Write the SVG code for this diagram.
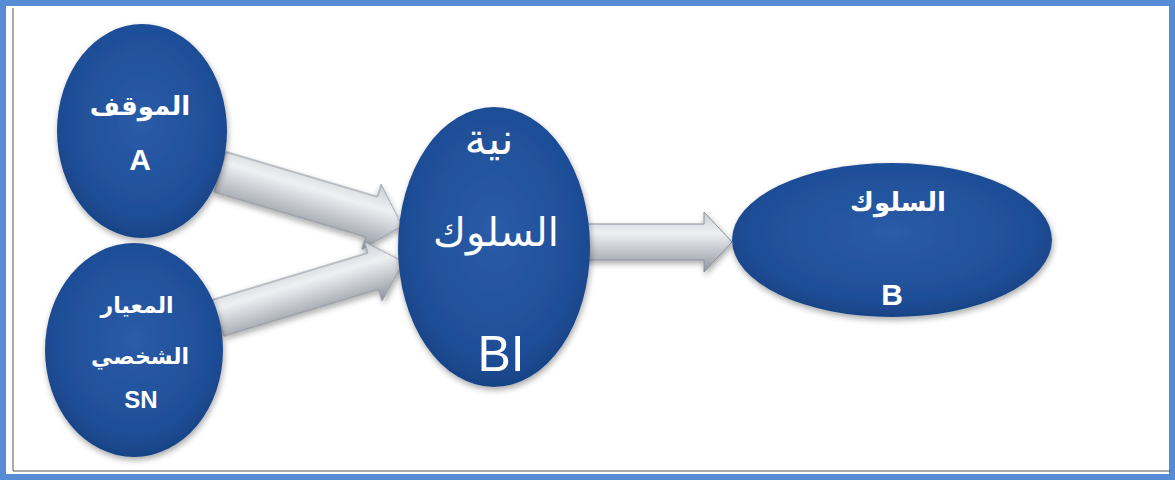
<svg xmlns="http://www.w3.org/2000/svg" width="1175" height="481" viewBox="0 0 1175 481">
<style>
.ar{font-family:"DejaVu Sans","Noto Sans",sans-serif;fill:#fff;text-anchor:middle}
.la{font-family:"Liberation Sans",Arial,sans-serif;fill:#fff;text-anchor:middle}
.b{font-weight:bold}
.node{fill:url(#nodeGrad);filter:url(#sh)}
.arrow{fill:url(#arrGrad);stroke:#8a9099;stroke-width:1;filter:url(#sh)}
</style>
<defs>
<radialGradient id="nodeGrad" cx="50%" cy="45%" r="60%">
<stop offset="0" stop-color="#2a5ca8"/>
<stop offset="0.75" stop-color="#1e4e96"/>
<stop offset="1" stop-color="#153d7e"/>
</radialGradient>
<linearGradient id="arrGrad" x1="0" y1="0" x2="0" y2="1">
<stop offset="0" stop-color="#c9ccd2"/>
<stop offset="0.35" stop-color="#eef0f3"/>
<stop offset="1" stop-color="#8f959e"/>
</linearGradient>
<filter id="sh" x="-20%" y="-20%" width="140%" height="140%">
<feGaussianBlur in="SourceAlpha" stdDeviation="3"/>
<feOffset dx="1" dy="3" result="o"/>
<feComponentTransfer><feFuncA type="linear" slope="0.35"/></feComponentTransfer>
<feMerge><feMergeNode/><feMergeNode in="SourceGraphic"/></feMerge>
</filter>
</defs>
<rect x="0" y="0" width="1175" height="481" fill="#fff"/>
<rect x="3" y="3" width="1169" height="474" fill="none" stroke="#558cd5" stroke-width="6"/>
<path d="M13 8 V471 H1170" fill="none" stroke="#555" stroke-width="1"/>
<g id="connectors">
<g transform="translate(220,172) rotate(16.5)">
<polygon class="arrow" points="0,-21 158,-21 158,-34 190,0 158,34 158,21 0,21"/>
</g>
<g transform="translate(218,318) rotate(-16.8)">
<polygon class="arrow" points="0,-19 162,-19 162,-31 194,0 162,31 162,19 0,19"/>
</g>
<g transform="translate(572,242)">
<polygon class="arrow" points="0,-18 132,-18 132,-30 160,0 132,30 132,18 0,18"/>
</g>
</g>
<g id="node-A">
<ellipse class="node" cx="142" cy="131" rx="85" ry="107"/>
<text class="ar b" x="140" y="115" font-size="26">الموقف</text>
<text class="la b" x="140" y="170" font-size="30">A</text>
</g>
<g id="node-SN">
<ellipse class="node" cx="134" cy="350" rx="89" ry="107"/>
<text class="ar b" x="137" y="313" font-size="22">المعيار</text>
<text class="ar b" x="140" y="364" font-size="22">الشخصي</text>
<text class="la b" x="141" y="408" font-size="24">SN</text>
</g>
<g id="node-BI">
<ellipse class="node" cx="494" cy="247" rx="96" ry="140"/>
<text class="ar" x="489" y="154" font-size="44">نية</text>
<text class="ar" x="496" y="246" font-size="40">السلوك</text>
<text class="la" x="501" y="371" font-size="50">BI</text>
</g>
<g id="node-B">
<ellipse class="node" cx="892" cy="240" rx="160" ry="77"/>
<text class="ar b" x="898" y="211" font-size="26">السلوك</text>
<text class="la b" x="892" y="305" font-size="30">B</text>
</g>
</svg>
